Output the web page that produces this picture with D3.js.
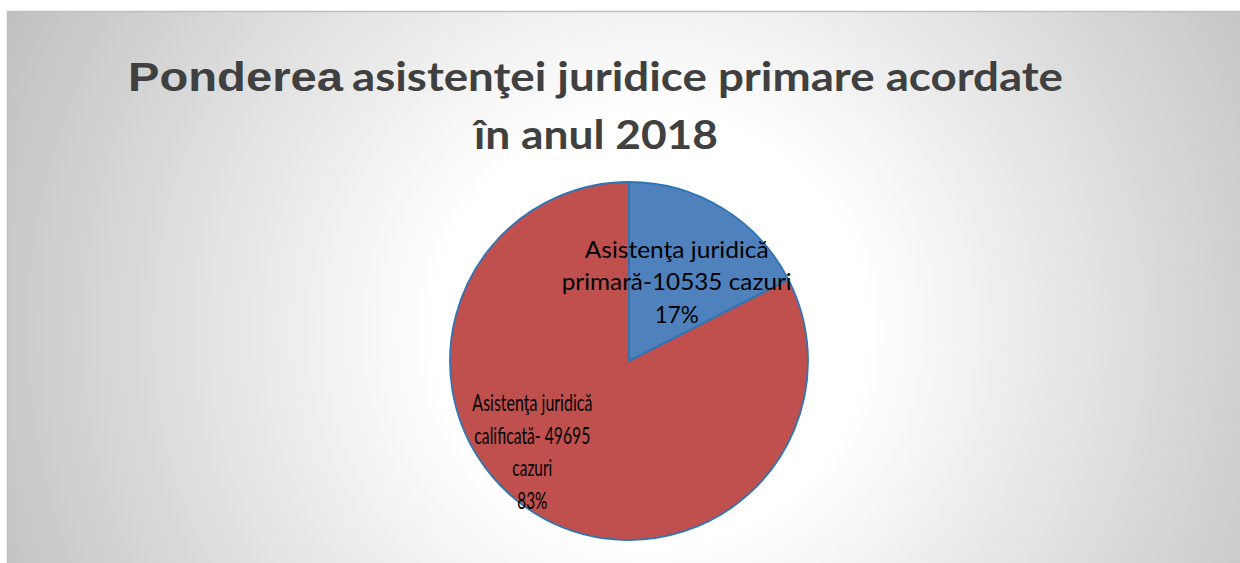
<!DOCTYPE html>
<html lang="ro">
<head>
<meta charset="utf-8">
<title>Ponderea asistenţei juridice primare acordate</title>
<style>
body { margin: 0; background: #fff; }
svg { display: block; }
</style>
<script src="https://d3js.org/d3.v7.min.js"></script>
</head>
<body>
<div id="chart"></div>
<script>
// data
var categories = ['Asistenţa juridică primară', 'Asistenţa juridică calificată'];
var values = [10535, 49695];
var percents = ['17%', '83%'];
var labelLines = [
  ['Asistenţa juridică', 'primară-10535 cazuri', '17%'],
  ['Asistenţa juridică', 'calificată- 49695', 'cazuri', '83%']
];
var colors = ['#4f81bd', '#c0504d'];

var width = 1240, height = 563;
var cx = 629, cy = 361, radius = 179;

var svg = d3.select('#chart').append('svg')
  .attr('width', width)
  .attr('height', height);

var defs = svg.append('defs');
var grad = defs.append('radialGradient')
  .attr('id', 'bg')
  .attr('gradientUnits', 'userSpaceOnUse')
  .attr('cx', 650).attr('cy', 330).attr('r', 720);
grad.append('stop').attr('offset', '0.30').attr('stop-color', '#ffffff');
grad.append('stop').attr('offset', '1').attr('stop-color', '#c0c0c0');

svg.append('rect')
  .attr('x', 7.5).attr('y', 11.5)
  .attr('width', width).attr('height', height)
  .attr('fill', 'url(#bg)')
  .attr('stroke', '#bfbfbf')
  .attr('stroke-width', 1.5);

// title
svg.append('text')
  .attr('x', 128).attr('y', 91)
  .attr('fill', '#404040')
  .style('font-weight', 'bold')
  .style('font-family', 'Liberation Sans, Arial, sans-serif')
  .style('font-size', '41px')
  .attr('textLength', 215)
  .attr('lengthAdjust', 'spacingAndGlyphs')
  .text('Ponderea');

svg.append('text')
  .attr('x', 352).attr('y', 91)
  .attr('fill', '#404040')
  .style('font-weight', 'bold')
  .style('font-family', 'Lato, sans-serif')
  .style('font-size', '40px')
  .attr('textLength', 711)
  .attr('lengthAdjust', 'spacingAndGlyphs')
  .text('asistenţei juridice primare acordate');

svg.append('text')
  .attr('x', 596).attr('y', 149)
  .attr('text-anchor', 'middle')
  .attr('fill', '#404040')
  .style('font-weight', 'bold')
  .style('font-family', 'Lato, sans-serif')
  .style('font-size', '40px')
  .attr('textLength', 244)
  .attr('lengthAdjust', 'spacingAndGlyphs')
  .text('în anul 2018');

// pie
var pie = d3.pie().sort(null).value(function(d) { return d; });
var arc = d3.arc().innerRadius(0).outerRadius(radius);
var labelArc = d3.arc().innerRadius(radius * 0.51).outerRadius(radius * 0.51);

var g = svg.append('g')
  .attr('transform', 'translate(' + cx + ',' + cy + ')');

var arcs = pie(values);

g.selectAll('path')
  .data(arcs)
  .enter()
  .append('path')
  .attr('d', arc)
  .attr('fill', function(d, i) { return colors[i]; })
  .attr('stroke', '#2e75b6')
  .attr('stroke-width', 1.8);

// labels (Excel nudged the big slice's label toward the left)
var nudge = [[0, 0], [-49, 14]];
var lineH = 32.5;
var lineWidths = [[184, 230, 44], [120, 116, 40, 30]];

arcs.forEach(function(a, i) {
  var c = labelArc.centroid(a);
  var lines = labelLines[i];
  var x = c[0] + nudge[i][0];
  var y0 = c[1] + nudge[i][1] - (lines.length - 1) * lineH / 2 + 7;
  lines.forEach(function(line, j) {
    g.append('text')
      .attr('x', x)
      .attr('y', y0 + j * lineH)
      .attr('text-anchor', 'middle')
      .attr('fill', '#000')
      .style('font-family', 'Lato, sans-serif')
      .style('font-size', '23px')
      .attr('textLength', lineWidths[i][j])
      .attr('lengthAdjust', 'spacingAndGlyphs')
      .text(line);
  });
});
</script>
</body>
</html>
